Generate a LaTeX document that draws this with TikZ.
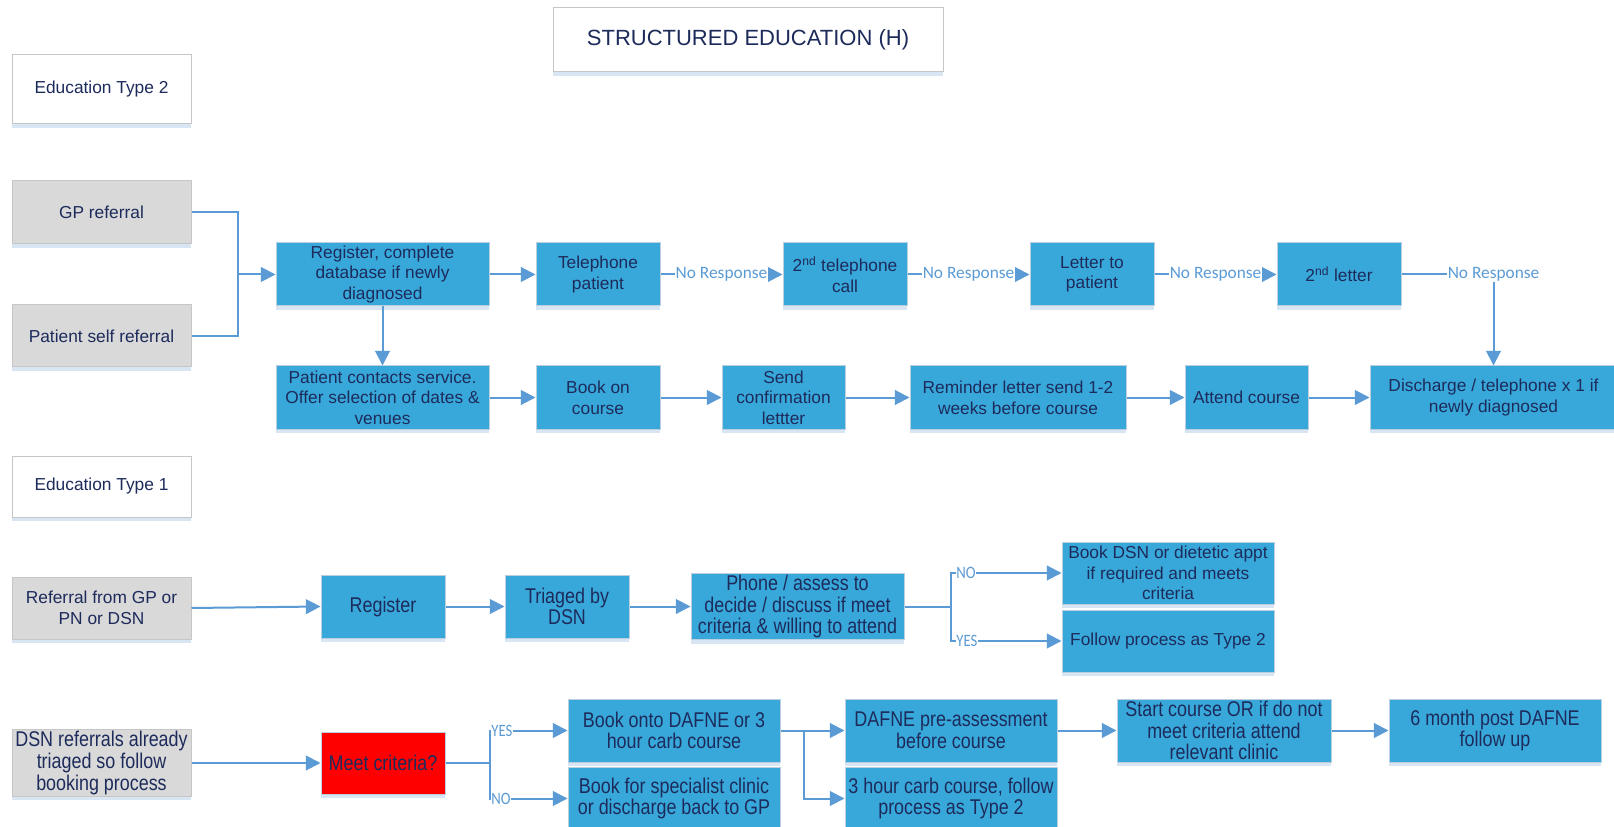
\documentclass[tikz,border=0pt]{standalone}
\usepackage{fontspec}
\setmainfont{Liberation Sans}
\newfontfamily\narrowsans{Liberation Sans}[FakeStretch=0.84]
\newfontfamily\labelsans{Carlito}
\newfontfamily\narrowlabel{Carlito}[FakeStretch=0.85]
\usetikzlibrary{arrows.meta,shadows}

\definecolor{boxblue}{HTML}{38A8DB}
\definecolor{blueedge}{HTML}{BCCFDF}
\definecolor{greyfill}{HTML}{D9D9D9}
\definecolor{greyedge}{HTML}{C6C6C6}
\definecolor{shadowc}{HTML}{D8E5F2}
\definecolor{navy}{HTML}{1D2B5B}
\definecolor{linec}{HTML}{5B9BD5}
\definecolor{alert}{HTML}{FF0000}

\tikzset{
  x=0.75pt, y=-0.75pt,
  base/.style={draw, line width=0.75pt, align=center, text=navy, inner sep=1pt,
    general shadow={fill=shadowc, shadow yshift=-3pt}},
  bluebox/.style={base, draw=blueedge, fill=boxblue},
  greybox/.style={base, draw=greyedge, fill=greyfill},
  whitebox/.style={base, draw=greyedge, fill=white},
  redbox/.style={base, draw=blueedge, fill=alert},
  std/.style={font=\fontsize{13}{15.5}\selectfont},
  nar/.style={font=\narrowsans\fontsize{16}{16.3}\selectfont},
  ln/.style={draw=linec, line width=1.5pt},
  arr/.style={ln, -{Triangle[length=11pt,width=11pt]}},
  resp/.style={fill=white, inner sep=0.5pt, text=linec, font=\labelsans\fontsize{13}{15}\selectfont},
  branch/.style={fill=white, inner sep=0.3pt, anchor=west, xshift=3, text=linec,
    font=\narrowlabel\fontsize{13}{15}\selectfont},
}

% \boxnode{name}{style}{x1}{y1}{x2}{y2}{text}
\newcommand\boxnode[7]{%
  \node[#2, minimum width={(#5-(#3))*0.75pt}, minimum height={(#6-(#4))*0.75pt}]
    (#1) at ({(#3+#5)/2},{(#4+#6)/2}) {#7};}

\begin{document}
\begin{tikzpicture}
\useasboundingbox[fill=white] (0,0) rectangle (1614,827);

% headings
\boxnode{title}{whitebox, font=\fontsize{16.5}{19}\selectfont}{553}{8}{943}{72}{STRUCTURED EDUCATION (H)}
\boxnode{edtwo}{whitebox, std}{12}{55}{191}{124}{Education Type 2}
\boxnode{edone}{whitebox, std}{12}{456}{191}{517}{Education Type 1}

% Type 2: referral and first contact attempts
\boxnode{gp}{greybox, std}{12}{181}{191}{244}{GP referral}
\boxnode{psr}{greybox, std}{12}{305}{191}{367}{Patient self referral}
\boxnode{reg}{bluebox, std}{276}{243}{489}{306}{Register, complete\\database if newly\\diagnosed}
\boxnode{tel}{bluebox, std}{536}{243}{660}{306}{Telephone\\patient}
\boxnode{teltwo}{bluebox, std}{783}{243}{907}{306}{2\textsuperscript{nd} telephone\\call}
\boxnode{let}{bluebox, std}{1030}{243}{1154}{306}{Letter to\\patient}
\boxnode{lettwo}{bluebox, std}{1277}{243}{1401}{306}{2\textsuperscript{nd} letter}

% Type 2: booking
\boxnode{pcs}{bluebox, std}{276}{366}{489}{429}{Patient contacts service.\\Offer selection of dates \&\\venues}
\boxnode{book}{bluebox, std}{536}{366}{660}{429}{Book on\\course}
\boxnode{conf}{bluebox, std}{722}{366}{845}{429}{Send\\confirmation\\lettter}
\boxnode{rem}{bluebox, std}{910}{366}{1126}{429}{Reminder letter send 1-2\\weeks before course}
\boxnode{att}{bluebox, std}{1185}{366}{1308}{429}{Attend course}
\boxnode{dis}{bluebox, std}{1370}{366}{1617}{429}{Discharge / telephone x 1 if\\newly diagnosed}

% Type 1: referral and triage
\boxnode{ref}{greybox, std}{12}{577}{191}{639}{Referral from GP or\\PN or DSN}
\boxnode{regone}{bluebox, nar}{321}{575}{445}{638}{Register}
\boxnode{tri}{bluebox, nar}{505}{575}{629}{638}{Triaged by\\DSN}
\boxnode{pho}{bluebox, nar}{691}{575}{904}{638}{Phone / assess to\\decide / discuss if meet\\criteria \& willing to attend}
\boxnode{bdsn}{bluebox, std}{1062}{542}{1274}{604}{Book DSN or dietetic appt\\if required and meets\\criteria}
\boxnode{fol}{bluebox, std}{1062}{610}{1274}{672}{Follow process as Type 2}

% Type 1: DSN referrals
\boxnode{dsnr}{greybox, nar}{12}{732}{191}{794}{DSN referrals already\\triaged so follow\\booking process}
\boxnode{meet}{redbox, nar}{321}{732}{445}{794}{Meet criteria?}
\boxnode{bdaf}{bluebox, nar}{568}{699}{780}{762}{Book onto DAFNE or 3\\hour carb course}
\boxnode{bspec}{bluebox, nar}{568}{767}{780}{830}{Book for specialist clinic\\or discharge back to GP}
\boxnode{dpre}{bluebox, nar}{845}{699}{1057}{762}{DAFNE pre-assessment\\before course}
\boxnode{carb}{bluebox, nar}{845}{767}{1057}{830}{3 hour carb course, follow\\process as Type 2}
\boxnode{start}{bluebox, nar}{1117}{699}{1331}{762}{Start course OR if do not\\meet criteria attend\\relevant clinic}
\boxnode{six}{bluebox, nar}{1389}{699}{1601}{762}{6 month post DAFNE\\follow up}

% Type 2 connectors
\coordinate (jref) at (238,274.5);
\draw[ln] (gp.east) -| (jref);
\draw[ln] (psr.east) -| (jref);
\draw[arr] (jref) -- (reg.west);
\draw[arr] (reg.east) -- (tel.west);
\draw[arr] (tel.east) -- node[resp]{No Response} (teltwo.west);
\draw[arr] (teltwo.east) -- node[resp]{No Response} (let.west);
\draw[arr] (let.east) -- node[resp]{No Response} (lettwo.west);
\draw[arr] (lettwo.east) -| node[resp]{No Response} (dis.north);
\draw[arr] (reg.south) -- (pcs.north);
\draw[arr] (pcs.east) -- (book.west);
\draw[arr] (book.east) -- (conf.west);
\draw[arr] (conf.east) -- (rem.west);
\draw[arr] (rem.east) -- (att.west);
\draw[arr] (att.east) -- (dis.west);

% Type 1 connectors
\draw[arr] (ref.east) -- (regone.west);
\draw[arr] (regone.east) -- (tri.west);
\draw[arr] (tri.east) -- (pho.west);
\coordinate (jpho) at (951,606.5);
\draw[ln] (pho.east) -- (jpho);
\draw[arr] (jpho) |- node[branch, pos=0.5]{NO} (bdsn.west);
\draw[arr] (jpho) |- node[branch, pos=0.5]{YES} (fol.west);

\coordinate (jmeet) at (490,763);
\draw[arr] (dsnr.east) -- (meet.west);
\draw[ln] (meet.east) -- (jmeet);
\draw[arr] (jmeet) |- node[branch, pos=0.5, xshift=-3]{YES} (bdaf.west);
\draw[arr] (jmeet) |- node[branch, pos=0.5, xshift=-3]{NO} (bspec.west);

\coordinate (jdaf) at (804,730.5);
\draw[arr] (bdaf.east) -- (dpre.west);
\draw[arr] (jdaf) |- (carb.west);
\draw[arr] (dpre.east) -- (start.west);
\draw[arr] (start.east) -- (six.west);
\end{tikzpicture}
\end{document}
